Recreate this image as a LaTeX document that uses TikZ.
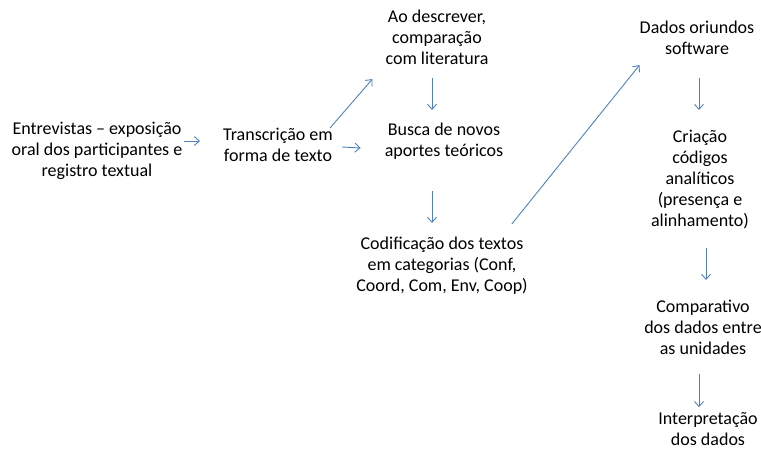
\documentclass[tikz,border=0pt]{standalone}
\usepackage{fontspec}
\setmainfont{Carlito}
\usetikzlibrary{arrows.meta}
\definecolor{officeblue}{HTML}{4F81BD}
\tikzset{
  stage/.style={align=center, inner sep=0pt, font=\fontsize{18}{21}\selectfont,
    execute at begin node=\strut, execute at end node=\strut},
  flow/.style={draw=officeblue, line width=0.9pt, -{Straight Barb[length=5pt,width=9pt]}}
}
\begin{document}
\begin{tikzpicture}[x=1pt,y=-1pt]
      \useasboundingbox (0,0) rectangle (761,451);
      \node (ent) [stage] at (97,152) {Entrevistas -- exposição\\oral dos participantes e\\registro textual};
      \node (tra) [stage] at (278,148) {Transcrição em\\forma de texto};
      \node (ao) [stage] at (437,40) {Ao descrever,\\comparação\\com literatura};
      \node (bus) [stage] at (444,143) {Busca de novos\\aportes teóricos};
      \node (cod) [stage] at (442,267) {Codificação dos textos\\em categorias (Conf,\\Coord, Com, Env, Coop)};
      \node (dad) [stage] at (697,41) {Dados oriundos\\software};
      \node (cri) [stage] at (700,181) {Criação\\códigos\\analíticos\\(presença e\\alinhamento)};
      \node (com) [stage] at (703,330) {Comparativo\\dos dados entre\\as unidades};
      \node (int) [stage] at (708,432) {Interpretação\\dos dados};
      % setas
      \draw [flow] ([xshift=1pt,yshift=11pt]ent.east) -- ([xshift=-23pt,yshift=7pt]tra.west);
      \draw [flow] ([xshift=9pt,yshift=1pt]tra.east) -- ([xshift=-24pt,yshift=-5pt]bus.west);
      \draw [flow] ([xshift=-3pt]tra.north east) -- ([xshift=-13pt,yshift=-8.5pt]ao.south west);
      \draw [flow] ([xshift=-5pt,yshift=-7.5pt]ao.south) -- ([xshift=-12pt,yshift=13pt]bus.north);
      \draw [flow] ([xshift=-12pt,yshift=-28pt]bus.south) -- ([xshift=-10pt,yshift=13.5pt]cod.north);
      \draw [flow] ([xshift=-16pt,yshift=12.5pt]cod.north east) -- ([yshift=-4pt]dad.south west);
      \draw [flow] ([xshift=2pt,yshift=-17pt]dad.south) -- ([xshift=-1pt,yshift=19.5pt]cri.north);
      \draw [flow] ([xshift=6pt,yshift=-15.5pt]cri.south) -- ([xshift=3pt,yshift=19.5pt]com.north);
      \draw [flow] ([xshift=-4pt,yshift=-13.5pt]com.south) -- ([xshift=-9pt,yshift=5pt]int.north);
    \end{tikzpicture}
\end{document}
